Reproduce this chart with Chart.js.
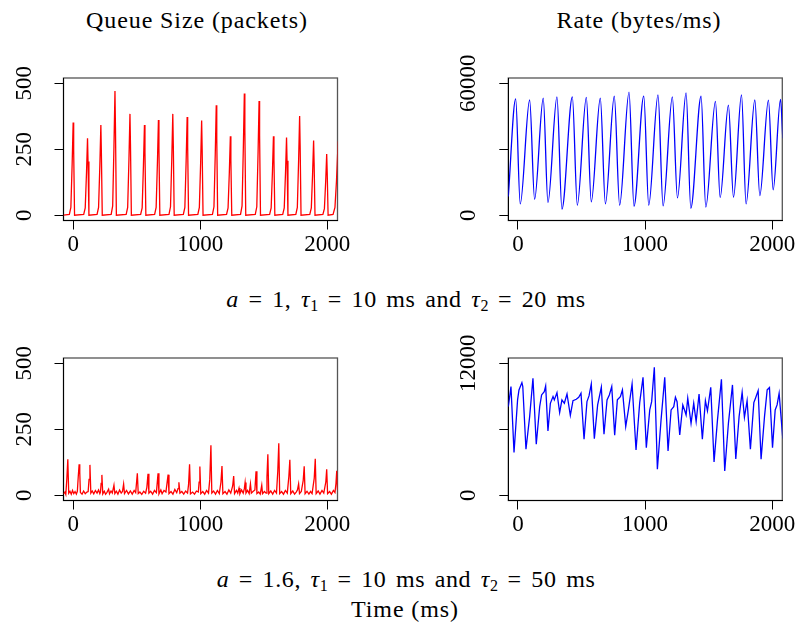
<!DOCTYPE html>
<html>
<head>
<meta charset="utf-8">
<script src="https://cdn.jsdelivr.net/npm/chart.js@4.4.1/dist/chart.umd.min.js"></script>
<style>
  body { margin: 0; background: #fff; width: 796px; height: 630px; position: relative; overflow: hidden; font-family: "Liberation Serif", serif; }
  canvas { position: absolute; }
  .txt { position: absolute; white-space: nowrap; font-size: 24px; line-height: 24px; transform: translateX(-50%); color: #000; letter-spacing: 0.9px; }
  .cap { letter-spacing: 0.6px; word-spacing: 3px; }
  .sub { font-size: 16px; position: relative; top: 4px; letter-spacing: 0; }
</style>
</head>
<body>
<div class="txt" style="left:197px; top:8px">Queue Size (packets)</div>
<div class="txt" style="left:639px; top:8px">Rate (bytes/ms)</div>
<div class="txt cap" style="left:406px; top:287px"><i>a</i> = 1, <i>τ</i><span class="sub">1</span> = 10 ms and <i>τ</i><span class="sub">2</span> = 20 ms</div>
<div class="txt cap" style="left:406px; top:567px"><i>a</i> = 1.6, <i>τ</i><span class="sub">1</span> = 10 ms and <i>τ</i><span class="sub">2</span> = 50 ms</div>
<div class="txt" style="left:405px; top:597px">Time (ms)</div>

<canvas id="qa" width="398" height="280" style="left:0; top:0"></canvas>
<canvas id="ra" width="398" height="280" style="left:398px; top:0"></canvas>
<canvas id="qb" width="398" height="280" style="left:0; top:280px"></canvas>
<canvas id="rb" width="398" height="280" style="left:398px; top:280px"></canvas>

<script>
// time axis (ms)
const timeTicks = [0, 1000, 2000];
const timeLabels = ['0', '1000', '2000'];

const queueTicks = [0, 250, 500];
const queueLabels = ['0', '250', '500'];
const rateTicksA = [0, 30000, 60000];
const rateLabelsA = ['0', '', '60000'];
const rateTicksB = [0, 6000, 12000];
const rateLabelsB = ['0', '', '12000'];

// a = 1, tau1 = 10 ms, tau2 = 20 ms : queue (packets)
const queueA = [
  [-76, 0], [-30, 3], [-18, 30], [-8, 193], [0, 351], [4, 246], [11, 0],
  [83, 3], [95, 28], [105, 161], [113, 292], [117, 204], [124, 0],
  [188, 3], [200, 30], [210, 188], [218, 342], [222, 239], [229, 0],
  [299, 3], [311, 35], [321, 259], [329, 471], [333, 330], [340, 0],
  [417, 3], [429, 30], [439, 211], [447, 384], [451, 269], [458, 0],
  [531, 3], [543, 28], [553, 188], [561, 342], [565, 239], [572, 0],
  [641, 3], [653, 30], [663, 199], [671, 361], [675, 253], [682, 0],
  [754, 3], [766, 32], [776, 211], [784, 384], [788, 269], [795, 0],
  [867, 3], [879, 30], [889, 205], [897, 372], [901, 260], [908, 0],
  [981, 3], [993, 30], [1003, 197], [1011, 359], [1015, 251], [1022, 0],
  [1096, 3], [1108, 32], [1118, 229], [1126, 417], [1130, 292], [1137, 0],
  [1207, 3], [1219, 28], [1229, 164], [1237, 299], [1241, 209], [1248, 0],
  [1317, 3], [1329, 35], [1339, 254], [1347, 461], [1351, 323], [1358, 0],
  [1433, 3], [1445, 32], [1455, 238], [1463, 433], [1467, 303], [1474, 0],
  [1546, 3], [1558, 28], [1568, 164], [1576, 299], [1580, 209], [1587, 0],
  [1649, 3], [1661, 28], [1671, 162], [1679, 294], [1683, 206], [1690, 0],
  [1752, 3], [1764, 30], [1774, 207], [1782, 376], [1786, 263], [1793, 0],
  [1862, 3], [1874, 28], [1884, 156], [1892, 283], [1896, 198], [1903, 0],
  [1965, 3], [1977, 25], [1987, 128], [1995, 232], [1999, 162], [2006, 0],
  [2045, 3], [2060, 30], [2072, 130], [2085, 280]
];

// a = 1 : rate (bytes/ms)
const rateA = [
  [-76, 8500], [-18, 52900], [18, 5150], [92, 52400], [131, 7270], [199, 53200],
  [236, 5760], [307, 53800], [346, 2730], [428, 53800], [467, 4545], [538, 53600],
  [577, 6060], [648, 53200], [688, 5150], [758, 54100], [800, 4545], [874, 56000],
  [913, 4090], [990, 54200], [1029, 4545], [1102, 54700], [1142, 4240], [1215, 53800],
  [1255, 7880], [1323, 55600], [1360, 3180], [1441, 54100], [1478, 3640], [1554, 51800],
  [1591, 8030], [1656, 50100], [1696, 8180], [1759, 54700], [1795, 5150], [1864, 52400],
  [1903, 8940], [1971, 52300], [2008, 11500], [2066, 52700], [2084, 35000]
];

// a = 1.6, tau1 = 10 ms, tau2 = 50 ms : queue (packets)
const queueB = [
  [-76, 5], [-65, 12], [-58, 3], [-50, 60], [-42, 136], [-35, 8], [-25, 15], [-15, 4],
  [-5, 18], [5, 6], [15, 14], [25, 4], [33, 15], [40, 70], [47, 117], [52, 86], [57, 10],
  [70, 4], [82, 16], [95, 6], [108, 12], [118, 14], [125, 60], [132, 115], [139, 8],
  [150, 16], [162, 5], [175, 18], [188, 8], [200, 20], [210, 6], [215, 12], [220, 45],
  [226, 77], [233, 5], [245, 15], [255, 4], [265, 10], [279, 23], [286, 5], [298, 16],
  [308, 8], [321, 38], [328, 6], [340, 15], [352, 4], [365, 20], [378, 8], [388, 14],
  [397, 42], [404, 6], [420, 18], [435, 5], [450, 16], [465, 4], [480, 18], [492, 10],
  [505, 83], [512, 6], [525, 12], [540, 3], [555, 15], [570, 8], [580, 30], [589, 81],
  [596, 8], [610, 15], [625, 4], [640, 18], [655, 10], [668, 83], [675, 5], [690, 20],
  [700, 6], [715, 18], [730, 12], [747, 78], [754, 6], [770, 14], [785, 4], [800, 22],
  [815, 10], [825, 25], [832, 49], [840, 8], [855, 14], [870, 4], [885, 16], [900, 8],
  [908, 40], [916, 117], [923, 5], [940, 12], [955, 4], [970, 16], [985, 12], [991, 50],
  [997, 109], [1004, 6], [1020, 14], [1035, 4], [1050, 18], [1065, 8], [1075, 60],
  [1084, 189], [1091, 8], [1105, 16], [1120, 4], [1135, 18], [1150, 6], [1163, 50],
  [1171, 111], [1178, 6], [1195, 14], [1210, 4], [1225, 20], [1240, 8], [1255, 35],
  [1263, 73], [1270, 6], [1285, 18], [1295, 8], [1305, 27], [1312, 6], [1325, 20],
  [1338, 8], [1347, 25], [1353, 48], [1360, 8], [1372, 18], [1385, 6], [1395, 43],
  [1402, 8], [1415, 14], [1430, 20], [1439, 91], [1446, 6], [1460, 12], [1472, 4],
  [1484, 38], [1490, 6], [1505, 14], [1518, 8], [1525, 70], [1532, 155], [1539, 6],
  [1555, 16], [1570, 4], [1585, 18], [1600, 8], [1610, 90], [1618, 197], [1625, 6],
  [1640, 14], [1655, 4], [1670, 18], [1685, 8], [1697, 70], [1705, 134], [1712, 6],
  [1728, 16], [1742, 4], [1755, 12], [1765, 20], [1774, 43], [1781, 6], [1795, 14],
  [1810, 55], [1818, 110], [1825, 6], [1840, 15], [1855, 4], [1868, 14], [1880, 6],
  [1897, 65], [1905, 138], [1912, 6], [1928, 16], [1942, 4], [1958, 18], [1972, 8],
  [1988, 50], [1995, 98], [2002, 6], [2018, 14], [2032, 4], [2048, 18], [2060, 10],
  [2068, 45], [2074, 93], [2080, 20]
];

// a = 1.6 : rate (bytes/ms)
const rateB = [
  [-76, 8060], [-66, 8900], [-55, 9880], [-31, 3880], [-3, 8670], [8, 9580], [31, 10240],
  [38, 9880], [63, 4180], [92, 7150], [118, 10640], [144, 4640], [171, 8060], [186, 9120],
  [207, 9420], [218, 9940], [236, 5850], [255, 8360], [276, 8970], [286, 8670], [307, 9330],
  [328, 7510], [346, 8670], [365, 8360], [386, 9210], [412, 7270], [433, 8600], [459, 8730],
  [478, 8900], [496, 9270], [520, 5090], [543, 8510], [559, 9030], [577, 10120], [601, 5150],
  [627, 8210], [656, 9820], [677, 5550], [701, 8670], [719, 9120], [738, 9880], [761, 5450],
  [782, 8670], [806, 8970], [822, 9580], [848, 6240], [869, 7760], [898, 10120], [929, 4120],
  [958, 8420], [984, 10730], [1010, 4330], [1037, 7760], [1052, 8510], [1073, 11640],
  [1097, 2360], [1126, 6850], [1155, 10730], [1181, 4030], [1205, 7760], [1226, 8060],
  [1239, 8910], [1252, 8510], [1273, 5480], [1297, 8210], [1312, 7700], [1323, 7300],
  [1336, 8820], [1362, 6540], [1383, 8360], [1402, 6700], [1425, 9210], [1451, 5090],
  [1475, 8600], [1491, 7670], [1517, 9820], [1543, 3030], [1570, 6850], [1601, 10540],
  [1627, 2210], [1656, 6540], [1688, 10030], [1714, 3300], [1740, 7150], [1764, 9360],
  [1782, 7090], [1803, 8600], [1829, 4180], [1856, 8420], [1869, 8820], [1890, 9510],
  [1913, 3270], [1940, 7150], [1961, 9580], [1979, 9790], [2003, 4330], [2024, 7760],
  [2039, 8210], [2055, 9270], [2084, 5150]
];

const FONT = '23px "Liberation Serif"';

// R-style frame + tick labels (y labels rotated)
const framePlugin = {
  id: 'frame',
  beforeDraw(chart) {
    const { ctx, chartArea: a } = chart;
    ctx.save();
    ctx.strokeStyle = '#555';
    ctx.lineWidth = 1.3;
    ctx.strokeRect(a.left, a.top, a.right - a.left, a.bottom - a.top);
    ctx.restore();
  },
  afterDraw(chart, args, opts) {
    const { ctx, chartArea: a, scales: { x, y } } = chart;
    ctx.save();
    ctx.fillStyle = '#000';
    ctx.font = FONT;
    ctx.textAlign = 'center';
    ctx.textBaseline = 'alphabetic';
    x.ticks.forEach((t, i) => ctx.fillText(opts.xLabels[i], x.getPixelForValue(t.value), a.bottom + 30.5));
    y.ticks.forEach((t, i) => {
      ctx.save();
      ctx.translate(a.left - 33, y.getPixelForValue(t.value));
      ctx.rotate(-Math.PI / 2);
      ctx.fillText(opts.yLabels[i], 0, 0);
      ctx.restore();
    });
    ctx.restore();
  }
};

function makePanel(id, series, color, yMin, yMax, yTicks, yLabels, boxLeft, boxRight, smooth) {
  const canvas = document.getElementById(id);
  const W = canvas.width, H = canvas.height;
  const top = 78, bottom = 220.5;
  return new Chart(canvas, {
    type: 'line',
    data: {
      datasets: [{
        data: series.map(p => ({ x: p[0], y: p[1] })),
        borderColor: color,
        borderWidth: 1.3,
        pointRadius: 0,
        fill: false,
        tension: smooth ? 0.4 : 0,
        cubicInterpolationMode: smooth ? 'monotone' : 'default'
      }]
    },
    options: {
      responsive: false,
      animation: false,
      devicePixelRatio: 1,
      layout: { padding: { left: 0, right: W - boxRight, top: top, bottom: 0 } },
      plugins: {
        legend: { display: false },
        tooltip: { enabled: false },
        frame: { xLabels: timeLabels, yLabels: yLabels }
      },
      scales: {
        x: {
          type: 'linear', min: -76, max: 2080,
          afterBuildTicks: s => { s.ticks = timeTicks.map(v => ({ value: v })); },
          afterFit: s => { s.height = H - bottom; },
          ticks: { display: false },
          grid: { drawOnChartArea: false, drawTicks: true, tickLength: 9, color: '#000', lineWidth: 1 },
          border: { display: true, color: '#000', width: 1 }
        },
        y: {
          type: 'linear', min: yMin, max: yMax,
          afterBuildTicks: s => { s.ticks = yTicks.map(v => ({ value: v })); },
          afterFit: s => { s.width = boxLeft; },
          ticks: { display: false },
          grid: { drawOnChartArea: false, drawTicks: true, tickLength: 9, color: '#000', lineWidth: 1 },
          border: { display: true, color: '#000', width: 1 }
        }
      }
    },
    plugins: [framePlugin]
  });
}

makePanel('qa', queueA, '#ff0000', -20, 520, queueTicks, queueLabels, 63.5, 337.5, false);
makePanel('ra', rateA, '#0000ff', -2400, 62400, rateTicksA, rateLabelsA, 110.3, 384.3, true);
makePanel('qb', queueB, '#ff0000', -20, 520, queueTicks, queueLabels, 63.5, 337.5, false);
makePanel('rb', rateB, '#0000ff', -480, 12480, rateTicksB, rateLabelsB, 110.3, 384.3, false);
</script>
</body>
</html>
